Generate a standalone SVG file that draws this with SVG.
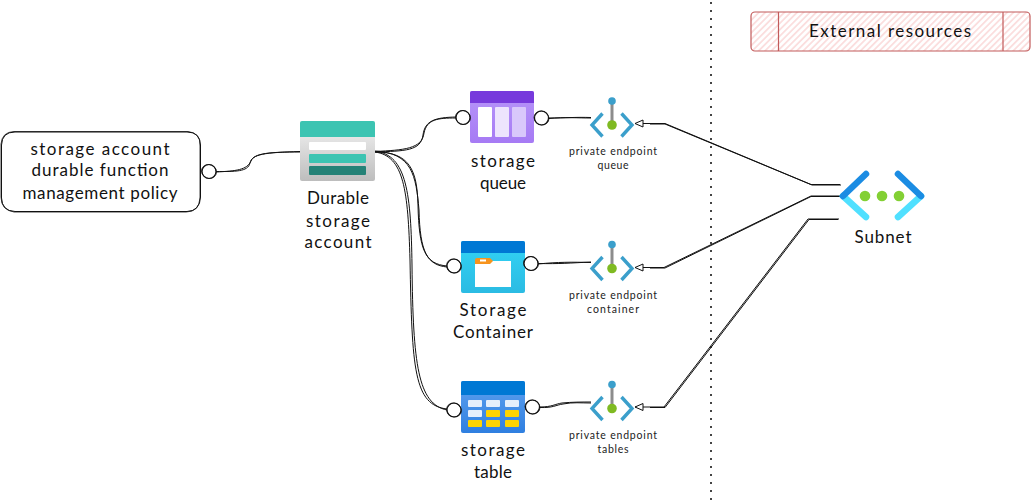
<svg xmlns="http://www.w3.org/2000/svg" width="1031" height="503" viewBox="0 0 1031 503">
<style>
text{font-family:"Lato","Open Sans","Liberation Sans",sans-serif;fill:#111;text-anchor:middle;font-weight:400}
.l{font-size:17px}
.s{font-size:10.5px;fill:#222}
.c{fill:none;stroke:#111;stroke-width:1}
.b{fill:#fff;stroke:#111;stroke-width:1.2}
.b2{fill:none;stroke:#111;stroke-width:0.7}
.pa{fill:none;stroke:#3b9fcb;stroke-width:3.4}
</style>
<defs>
<marker id="a" markerWidth="10" markerHeight="10" refX="9" refY="4.500" orient="auto" markerUnits="userSpaceOnUse"><path d="M1 1L9 4.500L1 8Z" fill="#fff" stroke="#111" stroke-width="1"/></marker>
<pattern id="h" width="4.500" height="4.500" patternUnits="userSpaceOnUse" patternTransform="rotate(-45)"><rect width="4.500" height="4.500" fill="#fff"/><rect width="4.500" height="1.800" fill="#fbdede"/></pattern>
<linearGradient id="gD" x1="0" y1="0" x2="0" y2="1"><stop offset="0" stop-color="#f4f4f4"/><stop offset="1" stop-color="#bdbdbd"/></linearGradient>
<linearGradient id="gQ" x1="0" y1="0" x2="0" y2="1"><stop offset="0" stop-color="#b796f9"/><stop offset="1" stop-color="#a67af4"/></linearGradient>
<linearGradient id="gC" x1="0" y1="0" x2="0" y2="1"><stop offset="0" stop-color="#32d4f5"/><stop offset="1" stop-color="#2bbbe3"/></linearGradient>
<linearGradient id="gT" x1="0" y1="0" x2="0" y2="1"><stop offset="0" stop-color="#5ea0ef"/><stop offset="1" stop-color="#2f7fe0"/></linearGradient>
<g id="pe">
<path d="M0 -22V0" stroke="#8c8c8c" stroke-width="3" fill="none"/>
<circle cx="0" cy="-24" r="3.800" fill="#3b9fcb"/>
<path class="pa" d="M-9.500 -11.500L-20 0L-9.500 11.500"/>
<path class="pa" d="M9.500 -11.500L20 0L9.500 11.500"/>
<circle cx="0" cy="0" r="4.800" fill="#7fba22"/>
</g>
<g id="o">
<circle class="b" r="7"/>
<ellipse class="b2" rx="7.600" ry="6.800" transform="rotate(25)"/>
</g>
</defs>

<path id="divider" d="M711 2V502" fill="none" stroke="#444" stroke-width="2" stroke-dasharray="2 6"/>

<g id="connectors">
<path class="c" d="M216 171.500C235 171.500 248 172 250 163C252 154 265 152.500 300 151.500"/>
<path class="c" d="M216 172C236 171 247 170 251 161C254 153 270 152 300 152"/>
<path class="c" d="M375 152C405 151 421 151 423 135C425 120 436 117.500 456 117"/>
<path class="c" d="M375 151.500C404 150 422 149 424 133C427 119 438 118 456 118"/>
<path class="c" d="M375 152C410 152 417 170 418 205C419 250 425 264 447 266"/>
<path class="c" d="M375 151C412 153 416 175 419 210C420 252 427 265 447 267"/>
<path class="c" d="M375 152C404 156 408 190 410 260C412 370 414 405 447 409"/>
<path class="c" d="M375 151.500C407 154 411 195 412 265C413 365 418 404 447 410"/>
<path class="c" d="M549 118C565 118 575 117 591 117.500"/>
<path class="c" d="M549 118.500C565 117 578 118 591 118"/>
<path class="c" d="M538 263.500C560 264 570 263 591 262"/>
<path class="c" d="M538 264C558 262 572 262 591 262.500"/>
<path class="c" d="M540 407C552 407 555 404 562 403C572 402 582 402 591 402"/>
<path class="c" d="M540 407.500C553 408 556 405 563 404C573 402 581 403 591 403"/>
<path class="c" d="M841 185H812L665 124H650"/>
<path class="c" marker-end="url(#a)" d="M840 184.500H811L665 123.500H635"/>
<path class="c" d="M841 196.500H811L665 268H650"/>
<path class="c" marker-end="url(#a)" d="M840 196H811L664 267.500H635"/>
<path class="c" d="M838 219.500H809L665 407.500H650"/>
<path class="c" marker-end="url(#a)" d="M839 219H808L664 407H635"/>
</g>

<g id="policy">
<path d="M15 132H187Q200 132 200.500 145V197Q200 211 187 211.500H15Q2 211 1.500 198V145Q2 132 15 132Z" fill="#fff" stroke="#111" stroke-width="1"/>
<path d="M14 131.500H188Q201 133 200 146V198Q199 212 186 212H14Q1 210 1 197V144Q2 132 14 131.500Z" fill="none" stroke="#111" stroke-width="0.8"/>
<text class="l" x="100" y="155" textLength="139">storage account</text>
<text class="l" x="100" y="176" textLength="137">durable function</text>
<text class="l" x="100" y="199" textLength="155">management policy</text>
<use href="#o" x="209" y="171.500"/>
</g>

<g id="durable">
<rect x="300" y="121" width="75" height="60" rx="2" fill="url(#gD)"/>
<path d="M300 137V123a2 2 0 0 1 2-2h71a2 2 0 0 1 2 2v14z" fill="#3cc4b2"/>
<rect x="309" y="142" width="57" height="8" rx="1" fill="#fff"/>
<rect x="309" y="154" width="57" height="9" rx="1" fill="#3cc4b2"/>
<rect x="309" y="166" width="57" height="9" rx="1" fill="#258277"/>
<text class="l" x="338" y="204" textLength="62">Durable</text>
<text class="l" x="338" y="227" textLength="64">storage</text>
<text class="l" x="338" y="248" textLength="67">account</text>
</g>

<g id="queue">
<rect x="470" y="91" width="64" height="52" rx="2" fill="url(#gQ)"/>
<path d="M470 103V93a2 2 0 0 1 2-2h60a2 2 0 0 1 2 2v10z" fill="#773adc"/>
<rect x="478" y="107" width="14" height="30" rx="1" fill="#fff"/>
<rect x="495" y="107" width="14" height="30" rx="1" fill="#ede4fd"/>
<rect x="512" y="107" width="14" height="30" rx="1" fill="#d9c8fb"/>
<text class="l" x="503" y="167" textLength="64">storage</text>
<text class="l" x="503" y="189" textLength="46">queue</text>
<use href="#o" x="463" y="117.500"/>
<use href="#o" x="541.500" y="118"/>
</g>

<g id="container">
<rect x="461" y="241" width="64" height="52" rx="2" fill="url(#gC)"/>
<path d="M461 253V243a2 2 0 0 1 2-2h60a2 2 0 0 1 2 2v10z" fill="#0078d4"/>
<rect x="475" y="261" width="36" height="26" fill="#fff"/>
<path d="M475 260a2 2 0 0 1 2-2h13l3 3l-3 3h-15z" fill="#f7941d"/>
<rect x="480" y="259.500" width="6" height="2" fill="#fff"/>
<text class="l" x="493" y="316" textLength="67">Storage</text>
<text class="l" x="493" y="338" textLength="80">Container</text>
<use href="#o" x="454" y="266"/>
<use href="#o" x="531" y="263.500"/>
</g>

<g id="table">
<rect x="461" y="381" width="64" height="52" rx="2" fill="url(#gT)"/>
<path d="M461 395V383a2 2 0 0 1 2-2h60a2 2 0 0 1 2 2v12z" fill="#0078d4"/>
<g fill="#e6effb">
<rect x="468" y="400" width="14" height="7" rx="1"/><rect x="486" y="400" width="14" height="7" rx="1"/><rect x="505" y="400" width="14" height="7" rx="1"/><rect x="468" y="410" width="14" height="7" rx="1"/>
</g>
<g fill="#ffd400">
<rect x="486" y="410" width="14" height="7" rx="1"/><rect x="505" y="410" width="14" height="7" rx="1"/><rect x="468" y="420" width="14" height="7" rx="1"/><rect x="486" y="420" width="14" height="7" rx="1"/><rect x="505" y="420" width="14" height="7" rx="1"/>
</g>
<text class="l" x="493" y="456" textLength="64">storage</text>
<text class="l" x="493" y="478" textLength="38">table</text>
<use href="#o" x="454" y="410"/>
<use href="#o" x="532.500" y="407"/>
</g>

<g id="pe-queue">
<use href="#pe" x="612" y="125"/>
<text class="s" x="613" y="155" textLength="88">private endpoint</text>
<text class="s" x="613" y="169" textLength="31">queue</text>
</g>
<g id="pe-container">
<use href="#pe" x="612" y="268.500"/>
<text class="s" x="613" y="299" textLength="88">private endpoint</text>
<text class="s" x="613" y="313" textLength="52">container</text>
</g>
<g id="pe-tables">
<use href="#pe" x="612" y="408.500"/>
<text class="s" x="613" y="439" textLength="88">private endpoint</text>
<text class="s" x="613" y="453" textLength="31">tables</text>
</g>

<g id="subnet">
<path d="M843 196L866 217" stroke="#50e0ff" stroke-width="6.500" stroke-linecap="round" fill="none"/>
<path d="M921 196L898 217" stroke="#50e0ff" stroke-width="6.500" stroke-linecap="round" fill="none"/>
<path d="M866 174L843 196" stroke="#1b8ce3" stroke-width="6.500" stroke-linecap="round" fill="none"/>
<path d="M898 174L921 196" stroke="#1b8ce3" stroke-width="6.500" stroke-linecap="round" fill="none"/>
<circle cx="865" cy="196" r="5.300" fill="#83d034"/>
<circle cx="882" cy="196" r="5.300" fill="#83d034"/>
<circle cx="899" cy="196" r="5.300" fill="#83d034"/>
<text class="l" x="883" y="243" textLength="57">Subnet</text>
</g>

<g id="external">
<rect x="751" y="12" width="279" height="39" rx="4" fill="url(#h)" stroke="#c25b5b" stroke-width="1.200"/>
<path d="M778.500 12V51M1003 12V51" stroke="#c25b5b" stroke-width="1.200" fill="none"/>
<text class="l" x="890" y="37" textLength="162">External resources</text>
</g>
</svg>
